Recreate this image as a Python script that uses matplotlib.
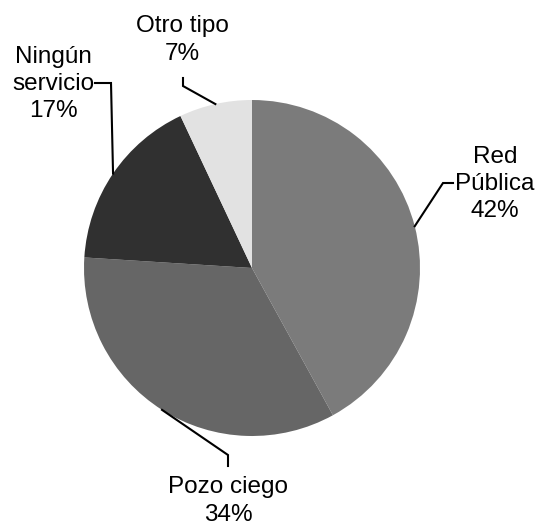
import numpy as np
import matplotlib.pyplot as plt

plt.rcParams['font.family'] = ['Liberation Sans', 'DejaVu Sans']

categorias = ['Red\nPública', 'Pozo ciego', 'Ningún\nservicio', 'Otro tipo']
porcentajes = [42, 34, 17, 7]
colores = ['#7b7b7b', '#666666', '#303030', '#e2e2e2']

W, H = 537, 525
fig = plt.figure(figsize=(W / 100, H / 100), dpi=100)
ax = fig.add_axes([0, 0, 1, 1])

centro = (252, H - 268)
radio = 168
wedges, _ = ax.pie(porcentajes, colors=colores, startangle=90, counterclock=False,
                   center=centro, radius=radio, frame=True,
                   wedgeprops=dict(linewidth=0))
ax.set_xlim(0, W)
ax.set_ylim(0, H)
ax.set_aspect('equal')
ax.axis('off')

# codos de las lineas guia y posicion de cada etiqueta (px, y hacia abajo)
codos = [
    [(443, 183), (453, 183)],
    [(228, 455), (228, 466)],
    [(111, 83), (95, 83)],
    [(183, 86), (183, 78)],
]
pos_texto = [(495, 184), (228, 501), (53, 84), (182, 40)]

for w, cat, pct, codo, (tx, ty) in zip(wedges, categorias, porcentajes, codos, pos_texto):
    ang = np.deg2rad((w.theta1 + w.theta2) / 2)
    x0 = centro[0] + radio * np.cos(ang)
    y0 = centro[1] + radio * np.sin(ang)
    xs = [x0] + [c[0] for c in codo]
    ys = [y0] + [H - c[1] for c in codo]
    ax.plot(xs, ys, color='black', lw=1.5, solid_joinstyle='miter')
    ax.text(tx, H - ty, f'{cat}\n{pct}%', ha='center', va='center',
            fontsize=17.5, linespacing=1.3, color='black')

fig.savefig('out.png', dpi=100)
